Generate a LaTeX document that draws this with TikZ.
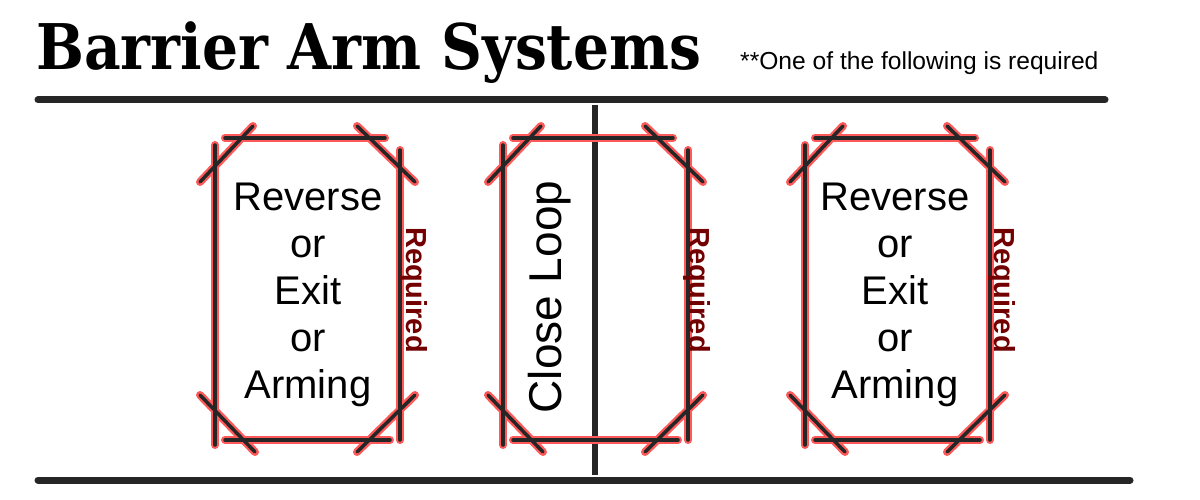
\documentclass[tikz,border=0pt]{standalone}
\usepackage{fontspec}
\setmainfont{Liberation Sans}
\newfontfamily\titlefont{DejaVu Serif Condensed}
\begin{document}
\begin{tikzpicture}[x=1pt,y=-1pt,
  bar/.style={line width=7pt,line cap=round,color=black!85},
  halo/.style={line width=8pt,color=red!65,line cap=round},
  wire/.style={line width=3.5pt,color=black!85,line cap=round},
  lbl/.style={font=\fontsize{40}{47}\selectfont,align=center,text=black},
  req/.style={font=\bfseries\fontsize{29}{34}\selectfont,text=red!45!black,rotate=-90}]
\useasboundingbox (0,0) rectangle (1200,500);
\fill[white] (0,0) rectangle (1200,500);
\node[anchor=base west,font=\titlefont\bfseries\fontsize{63}{66}\selectfont,inner sep=0] (title) at (36,70) {Barrier Arm Systems};
\node[anchor=base west,font=\fontsize{24.6}{28}\selectfont,inner sep=0] (note) at (740,70) {**One of the following is required};
\coordinate (t1) at (38,100); \coordinate (t2) at (1105,100);
\coordinate (b1) at (38,480); \coordinate (b2) at (1130,480);
\draw[bar] (t1) -- (t2);
\draw[bar] (b1) -- (b2);
\coordinate (v1) at (595,105); \coordinate (v2) at (595,475);
\draw[line width=6pt,black!85] (v1) -- (v2);
\foreach \x in {0,288,590}{
  \begin{scope}[xshift=\x]
  \foreach \s in {halo,wire}{
    \draw[\s] (215,145) -- (215,445);
    \draw[\s] (400,150) -- (400,440);
    \draw[\s] (225,138) -- (385,138);
    \draw[\s] (225,440) -- (390,440);
    \draw[\s] (200,182) -- (253,126);
    \draw[\s] (357,126) -- (415,182);
    \draw[\s] (200,395) -- (255,452);
    \draw[\s] (357,452) -- (415,395);
  }
  \end{scope}
}
\node[lbl] (l1) at (308,295) {Reverse\\or\\Exit\\or\\Arming};
\node[lbl] (l3) at (895,295) {Reverse\\or\\Exit\\or\\Arming};
\node[lbl,font=\fontsize{46}{50}\selectfont,rotate=90] (l2) at (550,297) {Close Loop};
\node[req] (r1) at (414,290) {Required};
\node[req] (r2) at (697,290) {Required};
\node[req] (r3) at (1002,290) {Required};
\end{tikzpicture}
\end{document}
